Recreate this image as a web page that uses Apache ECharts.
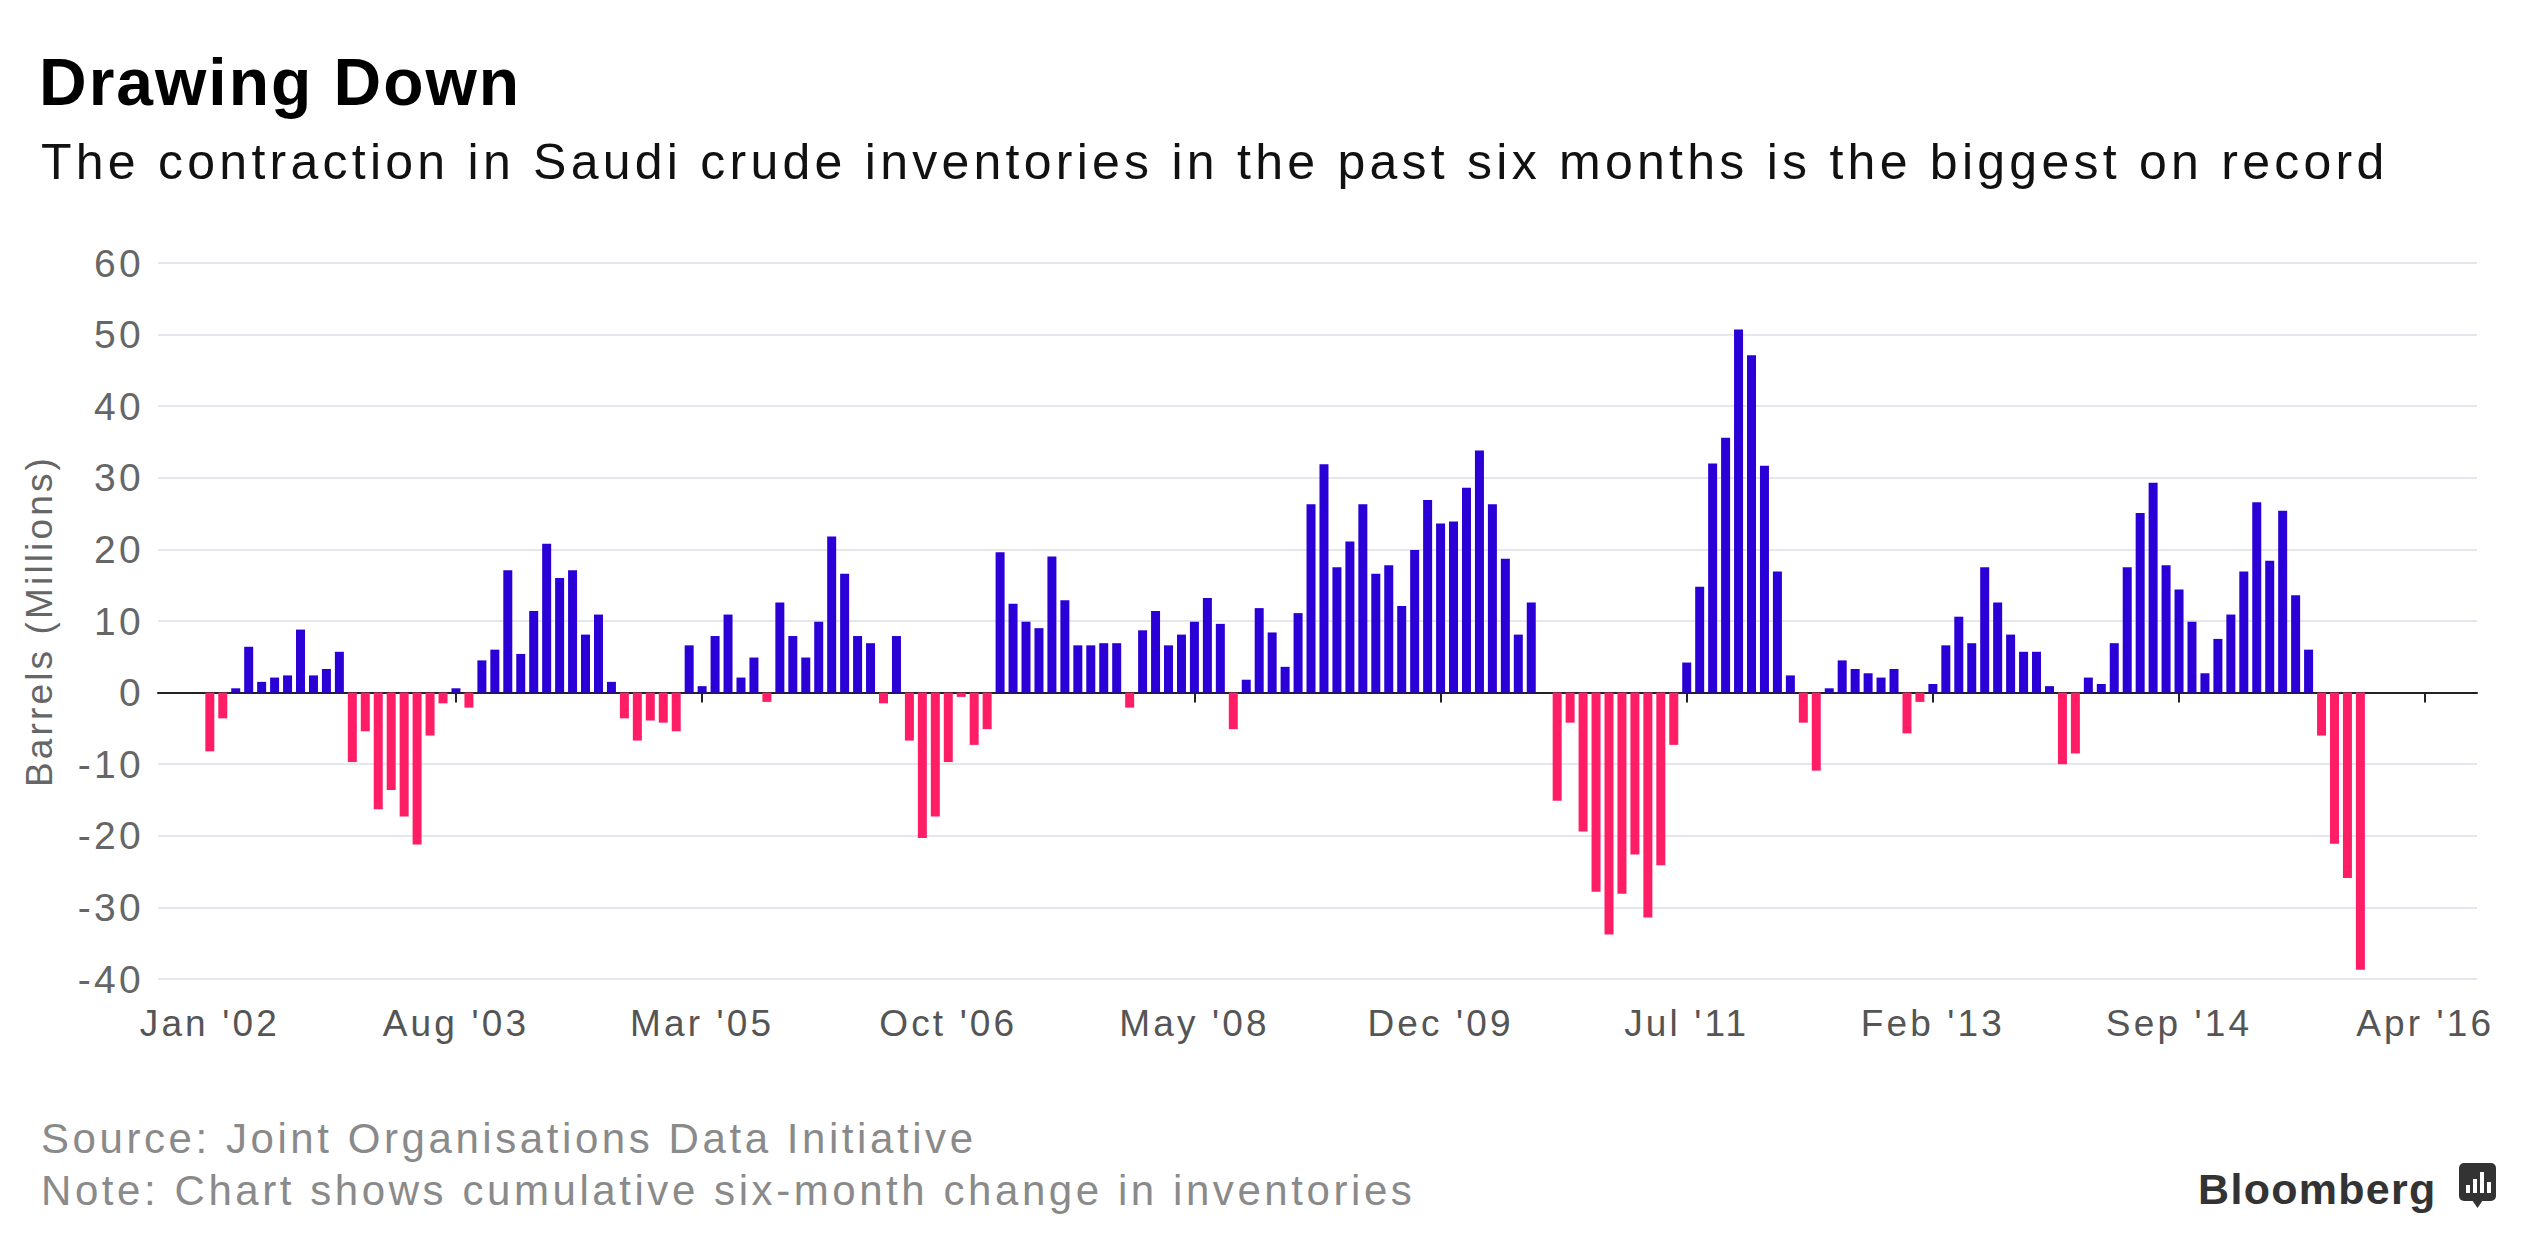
<!DOCTYPE html>
<html>
<head>
<meta charset="utf-8">
<title>Drawing Down</title>
<script src="https://cdn.jsdelivr.net/npm/echarts@6/dist/echarts.min.js"></script>
<style>
    html, body { margin: 0; padding: 0; background: #fff; }
    #chart { width: 2526px; height: 1244px; }
    /* bloomberg charts use loose tracking on the regular text */
    #chart svg text { letter-spacing: 0.085em; }
    #chart svg text[style*="bold"] { letter-spacing: 0.03em; }
</style>
</head>
<body>
<div id="chart"></div>
<script>
// cumulative six-month change in Saudi crude inventories, millions of barrels
const v2002 = [-8.2, -3.6, 0.6, 6.4, 1.5, 2.1, 2.4, 8.8, 2.4, 3.3, 5.7, -9.7];
const v2003 = [-5.4, -16.3, -13.6, -17.3, -21.2, -6.0, -1.5, 0.6, -2.1, 4.5, 6.0, 17.1];
const v2004 = [5.4, 11.4, 20.8, 16.0, 17.1, 8.1, 10.9, 1.5, -3.6, -6.7, -3.9, -4.2];
const v2005 = [-5.4, 6.6, 0.9, 7.9, 10.9, 2.1, 4.9, -1.3, 12.6, 7.9, 4.9, 9.9];
const v2006 = [21.8, 16.6, 7.9, 6.9, -1.5, 7.9, -6.7, -20.3, -17.3, -9.7, -0.6, -7.3];
const v2007 = [-5.1, 19.6, 12.4, 9.9, 9.0, 19.0, 12.9, 6.6, 6.6, 6.9, 6.9, -2.1];
const v2008 = [8.7, 11.4, 6.6, 8.1, 9.9, 13.2, 9.6, -5.1, 1.8, 11.8, 8.4, 3.6];
const v2009 = [11.1, 26.3, 31.9, 17.5, 21.1, 26.3, 16.6, 17.8, 12.1, 19.9, 26.9, 23.6];
const v2010 = [23.9, 28.6, 33.8, 26.3, 18.7, 8.1, 12.6, 0, -15.1, -4.2, -19.4, -27.8];
const v2011 = [-33.8, -28.1, -22.6, -31.4, -24.1, -7.3, 4.2, 14.8, 32.0, 35.6, 50.7, 47.1];
const v2012 = [31.7, 16.9, 2.4, -4.2, -10.9, 0.6, 4.5, 3.3, 2.7, 2.1, 3.3, -5.7];
const v2013 = [-1.3, 1.2, 6.6, 10.6, 6.9, 17.5, 12.6, 8.1, 5.7, 5.7, 0.9, -10.0];
const v2014 = [-8.5, 2.1, 1.2, 6.9, 17.5, 25.1, 29.3, 17.8, 14.4, 9.9, 2.7, 7.5];
const v2015 = [10.9, 16.9, 26.6, 18.4, 25.4, 13.6, 6.0, -6.0, -21.1, -25.9, -38.7];

const tickLabels = ["Jan '02", "Aug '03", "Mar '05", "Oct '06", "May '08",
                    "Dec '09", "Jul '11", "Feb '13", "Sep '14", "Apr '16"];
const yTicks = [-40, -30, -20, -10, 0, 10, 20, 30, 40, 50, 60];

const monthNames = ["Jan", "Feb", "Mar", "Apr", "May", "Jun",
                    "Jul", "Aug", "Sep", "Oct", "Nov", "Dec"];

// the axis runs from Sep 2001 to Aug 2016, data starts Jan 2002
const categories = [];
for (let i = 0; i < 180; i++) {
    const m = (8 + i) % 12;
    const y = 2001 + Math.floor((8 + i) / 12);
    categories.push(monthNames[m] + " '" + String(y).slice(2));
}
const lead = [null, null, null, null];
const values = lead.concat(v2002, v2003, v2004, v2005, v2006, v2007, v2008,
                           v2009, v2010, v2011, v2012, v2013, v2014, v2015);

const BLUE = "#2a00d6";
const PINK = "#ff1d66";
const FONT = "Liberation Sans";

const chart = echarts.init(document.getElementById("chart"), null, { renderer: "svg" });

const showTick = (idx, value) => tickLabels.includes(value);

chart.setOption({
    animation: false,
    backgroundColor: "#fff",
    textStyle: { fontFamily: FONT },
    title: [
        {
            text: "Drawing Down",
            left: 34, top: 44,
            textStyle: { fontSize: 66, fontWeight: "bold", color: "#000", fontFamily: FONT }
        },
        {
            text: "The contraction in Saudi crude inventories in the past six months is the biggest on record",
            left: 36, top: 132,
            textStyle: { fontSize: 50, fontWeight: "normal", color: "#111", fontFamily: FONT }
        },
        {
            text: "Source: Joint Organisations Data Initiative",
            left: 36, top: 1112,
            textStyle: { fontSize: 42, fontWeight: "normal", color: "#8a8a8a", fontFamily: FONT }
        },
        {
            text: "Note: Chart shows cumulative six-month change in inventories",
            left: 36, top: 1164,
            textStyle: { fontSize: 42, fontWeight: "normal", color: "#8a8a8a", fontFamily: FONT }
        },
        {
            text: "Bloomberg",
            right: 96, top: 1162,
            textStyle: { fontSize: 43, fontWeight: "bold", color: "#333", fontFamily: FONT }
        }
    ],
    grid: { left: 158, right: 49, top: 263, bottom: 265 },
    xAxis: {
        type: "category",
        data: categories,
        boundaryGap: false,
        axisLine: { lineStyle: { color: "#222", width: 2 } },
        axisTick: { interval: showTick, length: 10, lineStyle: { color: "#222", width: 2 } },
        axisLabel: { interval: showTick, margin: 26, fontSize: 37, color: "#555" },
        splitLine: { show: false }
    },
    yAxis: {
        type: "value",
        min: yTicks[0],
        max: yTicks[yTicks.length - 1],
        interval: 10,
        name: "Barrels (Millions)",
        nameLocation: "middle",
        nameGap: 100,
        nameTextStyle: { fontSize: 37, color: "#666" },
        axisLine: { show: false },
        axisTick: { show: false },
        axisLabel: { margin: 14, fontSize: 39, color: "#666" },
        splitLine: { lineStyle: { color: "#e4e7ec", width: 2 } }
    },
    series: [
        {
            type: "bar",
            data: values,
            barWidth: 9,
            silent: true,
            itemStyle: {
                color: (p) => (p.value >= 0 ? BLUE : PINK)
            }
        }
    ],
    graphic: [
        {
            type: "group",
            left: 2459, top: 1163,
            children: [
                { type: "rect", shape: { x: 0, y: 0, width: 37, height: 38, r: 5 }, style: { fill: "#333" } },
                { type: "polygon", shape: { points: [[13, 37], [24, 37], [18.5, 45]] }, style: { fill: "#333" } },
                { type: "rect", shape: { x: 7, y: 22, width: 4, height: 8 }, style: { fill: "#fff" } },
                { type: "rect", shape: { x: 14, y: 16, width: 4, height: 14 }, style: { fill: "#fff" } },
                { type: "rect", shape: { x: 21, y: 9, width: 4, height: 21 }, style: { fill: "#fff" } },
                { type: "rect", shape: { x: 28, y: 19, width: 4, height: 11 }, style: { fill: "#fff" } }
            ]
        }
    ]
});
</script>
</body>
</html>
